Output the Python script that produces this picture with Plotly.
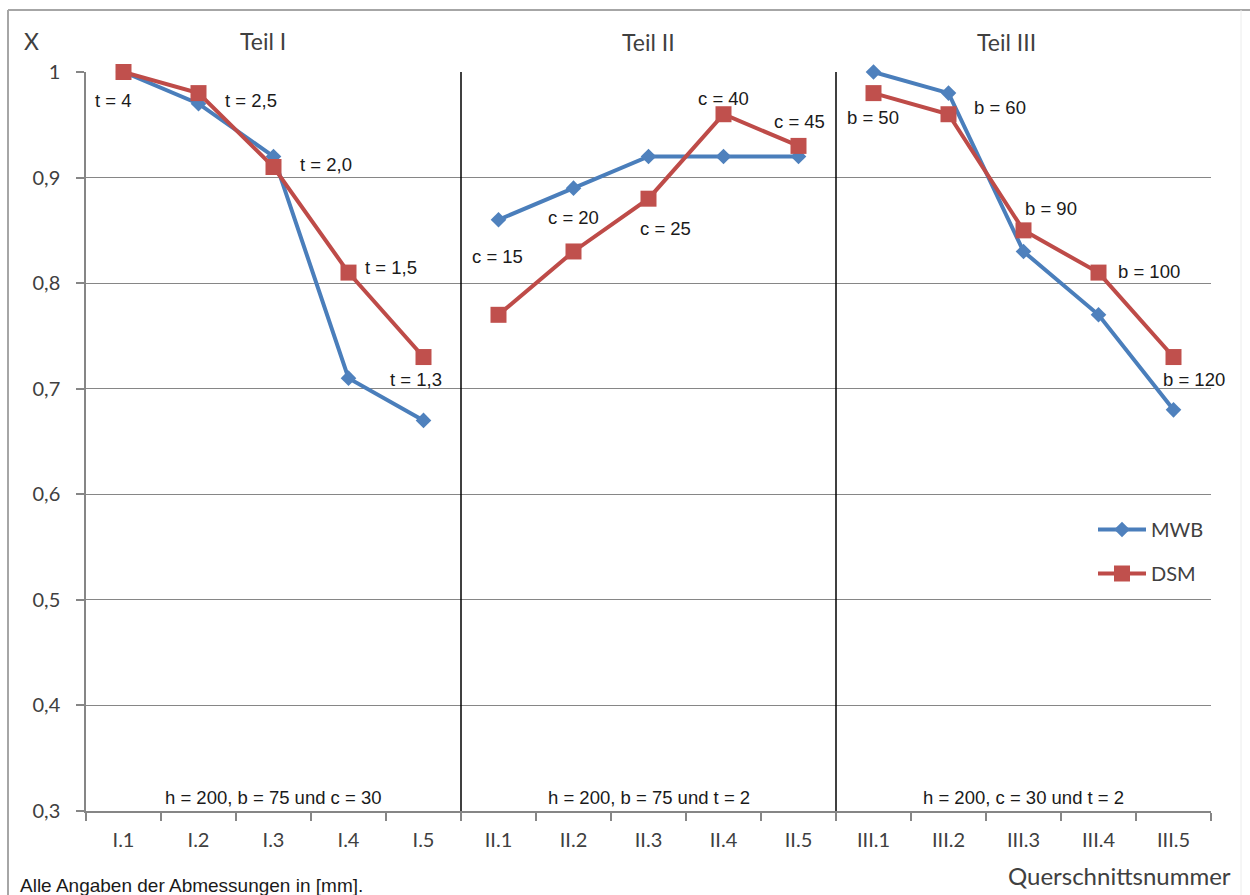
import plotly.graph_objects as go

# Cross-section identifiers, grouped by part
CATEGORIES = ["I.1", "I.2", "I.3", "I.4", "I.5",
              "II.1", "II.2", "II.3", "II.4", "II.5",
              "III.1", "III.2", "III.3", "III.4", "III.5"]
GROUP_SIZE = 5

# Reduction factor per cross-section
MWB = [1.00, 0.97, 0.92, 0.71, 0.67,
       0.86, 0.89, 0.92, 0.92, 0.92,
       1.00, 0.98, 0.83, 0.77, 0.68]
DSM = [1.00, 0.98, 0.91, 0.81, 0.73,
       0.77, 0.83, 0.88, 0.96, 0.93,
       0.98, 0.96, 0.85, 0.81, 0.73]

# Varied dimension per cross-section and the series each label sits on
POINT_LABELS = ["t = 4", "t = 2,5", "t = 2,0", "t = 1,5", "t = 1,3",
                "c = 15", "c = 20", "c = 25", "c = 40", "c = 45",
                "b = 50", "b = 60", "b = 90", "b = 100", "b = 120"]
LABEL_SERIES = ["DSM", "DSM", "DSM", "DSM", "DSM",
                "MWB", "MWB", "DSM", "DSM", "DSM",
                "DSM", "MWB", "DSM", "DSM", "DSM"]

GROUP_TITLES = ["Teil I", "Teil II", "Teil III"]
GROUP_NOTES = ["h = 200, b = 75 und c = 30",
               "h = 200, b = 75 und t = 2",
               "h = 200, c = 30 und t = 2"]

Y_TICKS = [0.3, 0.4, 0.5, 0.6, 0.7, 0.8, 0.9, 1.0]

# ---- layout / styling ----
W, H = 1250, 895
ML, MR, MT, MB = 86, 39, 72, 84
PW, PH = W - ML - MR, H - MT - MB

# pixel offsets of the point labels relative to their marker
LABEL_OFFSETS = [(-10, -28), (52, -7), (52, 3), (42, 5), (-8, -22),
                 (-1, -37), (0, -29), (17, -30), (0, 16), (1, 24),
                 (-1, -24), (51, -14), (27, 22), (50, 1), (20, -22)]
TITLE_PX = [(263, 41), (648, 42), (1006, 42)]

CALIBRI_LIKE = "Lato, 'Open Sans', sans-serif"
ARIAL_LIKE = "'Liberation Sans', Arial, sans-serif"
BLUE_LINE, BLUE_MARK = "#4A7EBB", "#4F81BD"
RED_LINE, RED_MARK = "#BE4B48", "#C0504D"
GRID = "#868686"
TEXT_DARK = "#1a1a1a"
TEXT_GREY = "#404040"


def px_to_paper(px, py):
    return (px - ML) / PW, (H - MB - py) / PH


def gapped(values):
    """Split a series into its parts so lines do not join across parts."""
    xs, ys = [], []
    for start in range(0, len(CATEGORIES), GROUP_SIZE):
        if xs:
            xs.append(None)
            ys.append(None)
        xs += CATEGORIES[start:start + GROUP_SIZE]
        ys += values[start:start + GROUP_SIZE]
    return xs, ys


series = {"MWB": MWB, "DSM": DSM}

fig = go.Figure()
mx, my = gapped(MWB)
fig.add_trace(go.Scatter(
    x=mx, y=my, name="MWB", mode="lines+markers", legendgroup="a",
    line=dict(color=BLUE_LINE, width=4),
    marker=dict(symbol="diamond", size=12, color=BLUE_MARK),
    cliponaxis=False, connectgaps=False))
dx, dy = gapped(DSM)
fig.add_trace(go.Scatter(
    x=dx, y=dy, name="DSM", mode="lines+markers", legendgroup="b",
    line=dict(color=RED_LINE, width=4),
    marker=dict(symbol="square", size=16, color=RED_MARK),
    cliponaxis=False, connectgaps=False))

annotations = []
# point labels
for i, (txt, ser) in enumerate(zip(POINT_LABELS, LABEL_SERIES)):
    ox, oy = LABEL_OFFSETS[i]
    annotations.append(dict(
        x=CATEGORIES[i], y=series[ser][i], xref="x", yref="y",
        text=txt, showarrow=False, xshift=ox, yshift=oy,
        font=dict(family=ARIAL_LIKE, size=18.5, color=TEXT_DARK)))

# part titles and notes
for g, (title, note) in enumerate(zip(GROUP_TITLES, GROUP_NOTES)):
    tx, ty = px_to_paper(*TITLE_PX[g])
    annotations.append(dict(
        x=tx, y=ty, xref="paper", yref="paper", text=title, showarrow=False,
        xanchor="center", yanchor="middle",
        font=dict(family=CALIBRI_LIKE, size=23, color=TEXT_GREY)))
    annotations.append(dict(
        x=CATEGORIES[g * GROUP_SIZE + GROUP_SIZE // 2], y=Y_TICKS[0],
        xref="x", yref="y", text=note, showarrow=False, yshift=14,
        font=dict(family=ARIAL_LIKE, size=18.5, color=TEXT_DARK)))

# axis captions and footnote
ax_, ay_ = px_to_paper(31, 41)
annotations.append(dict(x=ax_, y=ay_, xref="paper", yref="paper", text="X",
                        showarrow=False, xanchor="center", yanchor="middle",
                        font=dict(family=CALIBRI_LIKE, size=23, color=TEXT_GREY)))
qx, qy = px_to_paper(1119, 875)
annotations.append(dict(x=qx, y=qy, xref="paper", yref="paper",
                        text="Querschnittsnummer", showarrow=False,
                        xanchor="center", yanchor="middle",
                        font=dict(family=CALIBRI_LIKE, size=24, color=TEXT_GREY)))
fx, fy = px_to_paper(18, 885)
annotations.append(dict(x=fx, y=fy, xref="paper", yref="paper",
                        text="Alle Angaben der Abmessungen in [mm].",
                        showarrow=False, xanchor="left", yanchor="middle",
                        font=dict(family=ARIAL_LIKE, size=19, color=TEXT_DARK)))

shapes = []
# separators between the parts
for g in range(1, len(GROUP_TITLES)):
    xb = g * GROUP_SIZE - 0.5
    shapes.append(dict(type="line", xref="x", yref="y", x0=xb, x1=xb,
                       y0=Y_TICKS[0], y1=Y_TICKS[-1],
                       line=dict(color="black", width=1.5)))
# outer chart frame
l, t = px_to_paper(8, 10)
r, b = px_to_paper(1250, 895)
shapes.append(dict(type="line", xref="paper", yref="paper", x0=l, x1=r, y0=t, y1=t,
                   line=dict(color="#A6A6A6", width=2)))
shapes.append(dict(type="line", xref="paper", yref="paper", x0=l, x1=l, y0=t, y1=b,
                   line=dict(color="#A6A6A6", width=2)))
rr, _ = px_to_paper(1241, 0)
shapes.append(dict(type="line", xref="paper", yref="paper", x0=rr, x1=rr, y0=t, y1=b,
                   line=dict(color="#ECECEC", width=1)))

lx, ly = px_to_paper(1093, 510)

fig.update_layout(
    width=W, height=H, autosize=False,
    margin=dict(l=ML, r=MR, t=MT, b=MB, pad=0),
    paper_bgcolor="white", plot_bgcolor="white",
    separators=", ",
    showlegend=True,
    legend=dict(x=lx, y=ly, xanchor="left", yanchor="top",
                bgcolor="rgba(0,0,0,0)", itemwidth=48, tracegroupgap=15,
                font=dict(family=CALIBRI_LIKE, size=20, color=TEXT_GREY)),
    xaxis=dict(type="category", categoryorder="array", categoryarray=CATEGORIES,
               range=[-0.5, len(CATEGORIES) - 0.5],
               showline=True, linecolor=GRID, linewidth=1.5,
               ticks="outside", tickson="boundaries", ticklen=8,
               tickcolor=GRID, tickwidth=1.5, showgrid=False, zeroline=False,
               ticklabelstandoff=10,
               tickfont=dict(family=CALIBRI_LIKE, size=20, color=TEXT_GREY)),
    yaxis=dict(range=[Y_TICKS[0], Y_TICKS[-1]], tickvals=Y_TICKS,
               showline=True, linecolor=GRID, linewidth=1.5,
               ticks="outside", ticklen=8, tickcolor=GRID, tickwidth=1.5,
               showgrid=True, gridcolor=GRID, gridwidth=1.2, zeroline=False,
               ticklabelstandoff=12,
               tickfont=dict(family=CALIBRI_LIKE, size=20, color=TEXT_GREY)),
    annotations=annotations, shapes=shapes,
)

fig.write_html("out.html")
